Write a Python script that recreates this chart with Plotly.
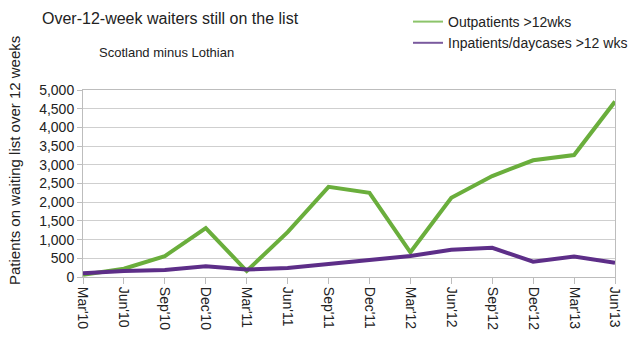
import plotly.graph_objects as go

# Quarter-end snapshots, Mar 2010 to Jun 2013
quarters = ["Mar'10", "Jun'10", "Sep'10", "Dec'10", "Mar'11", "Jun'11", "Sep'11",
            "Dec'11", "Mar'12", "Jun'12", "Sep'12", "Dec'12", "Mar'13", "Jun'13"]

outpatients = [60, 220, 560, 1310, 160, 1200, 2410, 2250, 660, 2120, 2700, 3120, 3260, 4690]
inpatients = [100, 160, 190, 290, 200, 240, 350, 450, 560, 730, 780, 410, 550, 380]

y_ticks = [0, 500, 1000, 1500, 2000, 2500, 3000, 3500, 4000, 4500, 5000]
y_tick_labels = ["{:,}".format(v) for v in y_ticks]

GREEN = "#6aae3c"
PURPLE = "#5d2e88"
FONT = "Liberation Sans, Arial, sans-serif"
TEXT = "#222222"

# plot-area geometry (pixels) used for placing the free text
PL, PR, PT, PB = 83, 615, 90, 277
PW, PH = PR - PL, PB - PT

fig = go.Figure()

fig.add_trace(go.Scatter(x=quarters, y=outpatients, mode="lines",
                         line=dict(color=GREEN, width=4), showlegend=False))
fig.add_trace(go.Scatter(x=quarters, y=inpatients, mode="lines",
                         line=dict(color=PURPLE, width=4), showlegend=False))

# Thin legend swatches
fig.add_trace(go.Scatter(x=[None], y=[None], mode="lines", name="Outpatients >12wks",
                         line=dict(color="#8cc46a", width=2)))
fig.add_trace(go.Scatter(x=[None], y=[None], mode="lines", name="Inpatients/daycases >12 wks",
                         line=dict(color="#7a5a9e", width=2)))

fig.update_layout(
    width=640, height=338,
    margin=dict(l=PL, r=640 - PR, t=PT, b=338 - PB, autoexpand=False),
    paper_bgcolor="white", plot_bgcolor="white",
    font=dict(family=FONT, size=14, color=TEXT),
    showlegend=True,
    legend=dict(xref="container", yref="container", x=408 / 640, y=1 - 6 / 338,
                xanchor="left", yanchor="top", font=dict(size=14, color=TEXT),
                bgcolor="rgba(0,0,0,0)", tracegroupgap=0, itemwidth=30),
    annotations=[
        dict(text="Over-12-week waiters still on the list", xref="paper", yref="paper",
             x=(40 - PL) / PW, y=1 + (PT - 18) / PH, xanchor="left", yanchor="middle",
             showarrow=False, font=dict(family=FONT, size=16, color=TEXT)),
        dict(text="Scotland minus Lothian", xref="paper", yref="paper",
             x=(97 - PL) / PW, y=1 + (PT - 52) / PH, xanchor="left", yanchor="middle",
             showarrow=False, font=dict(family=FONT, size=13, color=TEXT)),
        dict(text="Patients on waiting list over 12 weeks", xref="paper", yref="paper",
             x=(14 - PL) / PW, y=(PB - 161) / PH, xanchor="center", yanchor="middle",
             textangle=-90, showarrow=False, font=dict(family=FONT, size=15, color=TEXT)),
    ],
)

fig.update_xaxes(
    type="category", range=[0, len(quarters) - 1],
    tickangle=90, tickfont=dict(size=14, color=TEXT),
    showgrid=False, showline=True, linecolor="#bdbdbd", linewidth=1, mirror=True,
    ticks="outside", ticklen=6, tickcolor="#bdbdbd",
)
fig.update_yaxes(
    range=[0, 5000], tickvals=y_ticks, ticktext=y_tick_labels,
    tickfont=dict(size=14, color=TEXT),
    showgrid=True, gridcolor="#cfcfcf", gridwidth=1,
    showline=True, linecolor="#bdbdbd", linewidth=1, mirror=True,
    ticks="outside", ticklen=5, tickcolor="#bdbdbd", zeroline=False,
)

fig.write_html("out.html")
